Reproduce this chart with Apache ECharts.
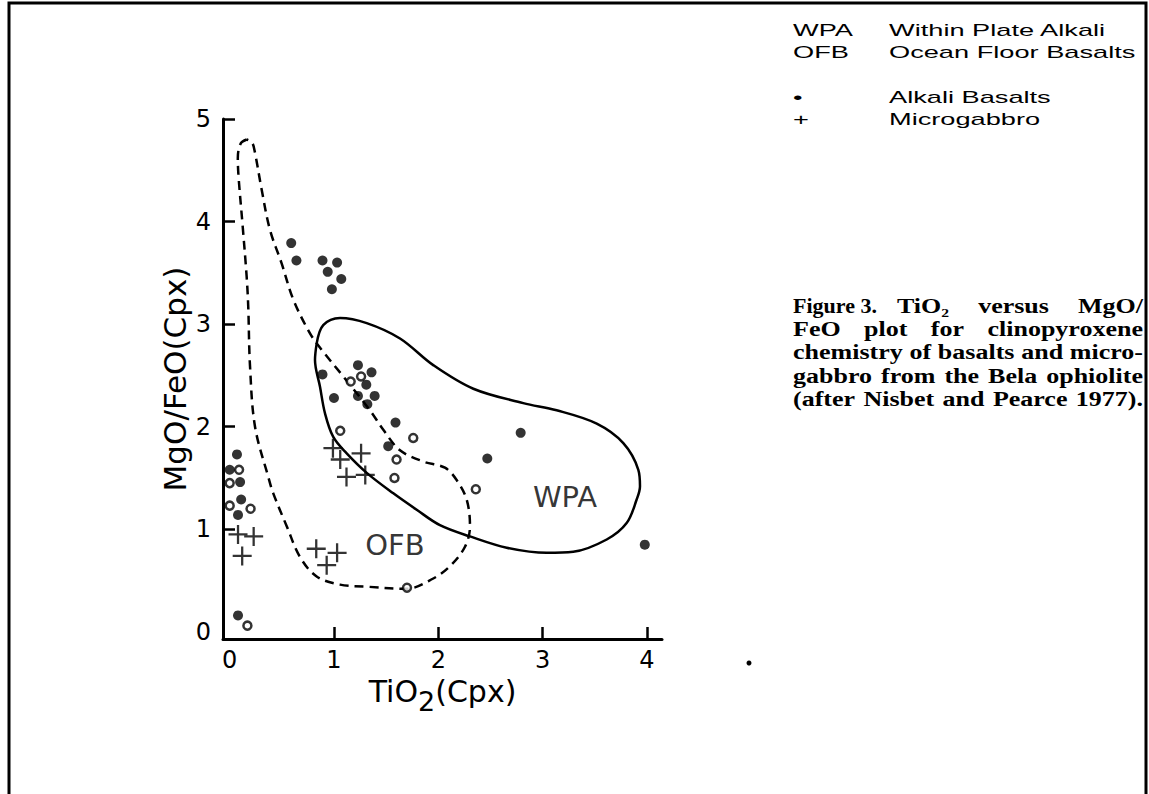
<!DOCTYPE html>
<html>
<head>
<meta charset="utf-8">
<title>TiO2 versus MgO/FeO (Cpx)</title>
<script src="https://cdn.jsdelivr.net/npm/echarts@6/dist/echarts.min.js"></script>
<style>
	html, body { margin: 0; padding: 0; background: #fff; }
	#echart1 { width: 1149px; height: 794px; }
</style>
</head>
<body>
<div id="echart1"></div>
<script>
// outlines of the two fields, [TiO2, MgO/FeO]
var wpaLine = [
	[0.834, 2.81], [0.897, 2.99], [1.058, 3.06], [1.314, 3.01], [1.633, 2.86], [1.952, 2.60],
	[2.336, 2.37], [2.815, 2.23], [3.135, 2.16], [3.519, 2.03], [3.774, 1.84], [3.918, 1.58],
	[3.934, 1.42], [3.902, 1.29], [3.806, 1.06], [3.615, 0.90], [3.294, 0.78], [3.039, 0.77],
	[2.656, 0.82], [2.304, 0.93], [2.016, 1.04], [1.793, 1.19], [1.569, 1.35], [1.314, 1.55],
	[1.122, 1.74], [0.993, 1.90], [0.914, 2.13], [0.866, 2.39], [0.818, 2.65], [0.834, 2.81]
];
var ofbLine = [
	[0.163, 4.80], [0.105, 4.76], [0.078, 4.62], [0.085, 4.44], [0.125, 3.95], [0.163, 3.46], [0.178, 3.17],
	[0.195, 2.59], [0.243, 2.00], [0.370, 1.51], [0.418, 1.35], [0.547, 1.03], [0.674, 0.73],
	[0.834, 0.54], [1.058, 0.46], [1.314, 0.44], [1.697, 0.42], [1.952, 0.52], [2.112, 0.64],
	[2.256, 0.83], [2.304, 1.03], [2.272, 1.29], [2.176, 1.48], [2.064, 1.60], [1.856, 1.66],
	[1.633, 1.77], [1.473, 1.97], [1.345, 2.16], [1.089, 2.49], [0.882, 2.75], [0.770, 2.91],
	[0.610, 3.24], [0.499, 3.59], [0.386, 3.92], [0.307, 4.31], [0.243, 4.67], [0.215, 4.77], [0.163, 4.80]
];

// samples
var alkaliDots = [
	[0.59, 3.79], [0.64, 3.62], [0.89, 3.62], [1.03, 3.60], [0.94, 3.51], [1.07, 3.44], [0.98, 3.34],
	[0.89, 2.51], [1.23, 2.60], [1.36, 2.53], [1.31, 2.41], [1.39, 2.30], [1.23, 2.30], [1.32, 2.22],
	[1.00, 2.28], [1.59, 2.04], [1.52, 1.81], [2.47, 1.69], [2.79, 1.94], [3.98, 0.85],
	[0.07, 1.73], [0.00, 1.58], [0.10, 1.46], [0.11, 1.29], [0.08, 1.14], [0.08, 0.16]
];
var alkaliOpen = [
	[1.26, 2.49], [1.16, 2.44], [1.06, 1.96], [1.76, 1.89], [1.60, 1.68], [1.58, 1.50],
	[2.36, 1.39], [1.70, 0.43], [0.09, 1.58], [0.00, 1.45], [0.00, 1.23], [0.20, 1.20], [0.17, 0.06]
];
var microgabbro = [
	[0.99, 1.79], [1.06, 1.68], [1.26, 1.74], [1.12, 1.51], [1.30, 1.53],
	[0.83, 0.81], [1.03, 0.77], [0.93, 0.65],
	[0.08, 0.95], [0.23, 0.93], [0.12, 0.74]
];

var xTickLabels = [0, 1, 2, 3, 4];
var yTickLabels = [0, 1, 2, 3, 4, 5];
var regionNames = [['OFB', 1.585, 0.846], ['WPA', 3.215, 1.313]];

var legendRows = [
	['WPA', 'Within Plate Alkali'],
	['OFB', 'Ocean Floor Basalts'],
	['•', 'Alkali Basalts'],
	['+', 'Microgabbro']
];
var captionLead = 'Figure 3.';
var captionLines = [
	['TiO₂', 'versus', 'MgO/'],
	['FeO', 'plot', 'for', 'clinopyroxene'],
	['chemistry', 'of', 'basalts', 'and', 'micro-'],
	['gabbro', 'from', 'the', 'Bela', 'ophiolite'],
	['(after', 'Nisbet', 'and', 'Pearce', '1977).']
];
var captionStart = [897, 793, 793, 793, 793];

var plotFont = 'DejaVu Sans';
var capFont = 'bold 20px "Liberation Serif"';

function text_width(txt, font) {
	var ctx = text_width.ctx || (text_width.ctx = document.createElement('canvas').getContext('2d'));
	ctx.font = font;
	return ctx.measureText(txt).width;
}

function cap_text(t, x, y, sx) {
	return {
		type: 'text', x: x, y: y, scaleX: sx,
		style: { text: t, font: capFont, fill: '#000', verticalAlign: 'middle' }
	};
}

function cal_graphics() {
	var els = [];
	// frame round the figure
	els.push({
		type: 'rect', shape: { x: 9, y: 3, width: 1137, height: 820 },
		style: { fill: 'none', stroke: '#000', lineWidth: 3 }
	});
	// stray speck right of the axis
	els.push({ type: 'circle', shape: { cx: 749, cy: 663, r: 2.5 }, style: { fill: '#000' } });

	var ys = [30, 52, 97, 119];
	legendRows.forEach(function (row, i) {
		els.push({
			type: 'text', x: 793, y: ys[i], scaleX: 1.6,
			style: { text: row[0], font: '17px "Liberation Sans"', fill: '#000', verticalAlign: 'middle' }
		});
		els.push({
			type: 'text', x: 889, y: ys[i], scaleX: 1.6,
			style: { text: row[1], font: '17px "Liberation Sans"', fill: '#000', verticalAlign: 'middle' }
		});
	});

	// justified caption, stretched like the scan
	var sx = 1.3, right = 1143;
	els.push(cap_text(captionLead, 793, 306, 1.1));
	captionLines.forEach(function (words, i) {
		var w = words.map(function (t) { return text_width(t, capFont) * sx; });
		var total = w.reduce(function (a, b) { return a + b; }, 0);
		var gap = (right - captionStart[i] - total) / (words.length - 1);
		var x = captionStart[i];
		words.forEach(function (t, j) {
			els.push(cap_text(t, x, 306 + i * 23.3, sx));
			x += w[j] + gap;
		});
	});
	return els;
}

function cal_option() {
	var axisLine = { onZero: false, lineStyle: { color: '#000', width: 3 } };
	var option = {
		animation: false,
		grid: { left: 223, right: 487, top: 119, bottom: 155, containLabel: false, outerBoundsMode: 'none' },
		xAxis: {
			type: 'value', min: -0.064, max: 4.145,
			name: '{a|TiO}{b|2}{a|(Cpx)}', nameLocation: 'middle', nameGap: 22,
			nameTextStyle: {
				rich: {
					a: { fontSize: 30, fontFamily: plotFont, color: '#000' },
					b: { fontSize: 27, fontFamily: plotFont, color: '#000', padding: [20, 0, 0, 0] }
				}
			},
			axisLine: axisLine,
			axisTick: { inside: true, length: 12, customValues: xTickLabels.slice(1), lineStyle: { color: '#000', width: 2.5 } },
			axisLabel: { customValues: xTickLabels, fontSize: 24, fontFamily: plotFont, color: '#000', margin: 9 },
			splitLine: { show: false }
		},
		yAxis: {
			type: 'value', min: -0.07, max: 5,
			name: 'MgO/FeO(Cpx)', nameLocation: 'middle', nameGap: 33,
			nameTextStyle: { fontSize: 31, fontFamily: plotFont, color: '#000' },
			axisLine: axisLine,
			axisTick: { inside: true, length: 12, customValues: yTickLabels.slice(1), lineStyle: { color: '#000', width: 2.5 } },
			axisLabel: { customValues: yTickLabels, fontSize: 24, fontFamily: plotFont, color: '#000', margin: 12 },
			splitLine: { show: false }
		},
		graphic: cal_graphics(),
		series: [
			{
				name: 'WPA', type: 'line', data: wpaLine, smooth: 0.35, symbol: 'none',
				lineStyle: { color: '#000', width: 2.5 }
			},
			{
				name: 'OFB', type: 'line', data: ofbLine, smooth: 0.35, symbol: 'none',
				lineStyle: { color: '#000', width: 2.5, type: [9, 6] }
			},
			{
				name: 'Alkali Basalts', type: 'scatter', data: alkaliDots, symbol: 'circle', symbolSize: 10,
				itemStyle: { color: '#000' }, z: 5
			},
			{
				name: 'Alkali Basalts (open)', type: 'scatter', data: alkaliOpen, symbol: 'circle', symbolSize: 8,
				itemStyle: { color: '#fff', borderColor: '#000', borderWidth: 2.5 }, z: 5
			},
			{
				name: 'Microgabbro', type: 'scatter', data: microgabbro, symbolSize: 19,
				symbol: 'path://M-1.2,-10 L1.2,-10 L1.2,-1.2 L10,-1.2 L10,1.2 L1.2,1.2 L1.2,10 L-1.2,10 L-1.2,1.2 L-10,1.2 L-10,-1.2 L-1.2,-1.2 Z',
				itemStyle: { color: '#000' }, z: 5
			},
			{
				name: 'fields', type: 'scatter', symbolSize: 0, silent: true,
				data: regionNames.map(function (r) { return { name: r[0], value: [r[1], r[2]] }; }),
				label: {
					show: true, position: 'inside', formatter: '{b}',
					fontSize: 29, fontFamily: plotFont, color: '#000'
				}
			}
		]
	};
	return option;
}

function draw_charts() {
	var myChart = echarts.init(document.getElementById('echart1'), null, { renderer: 'svg' });
	myChart.setOption(cal_option());
	window.onresize = function () {
		myChart.resize();
	};
}

draw_charts();
</script>
</body>
</html>
